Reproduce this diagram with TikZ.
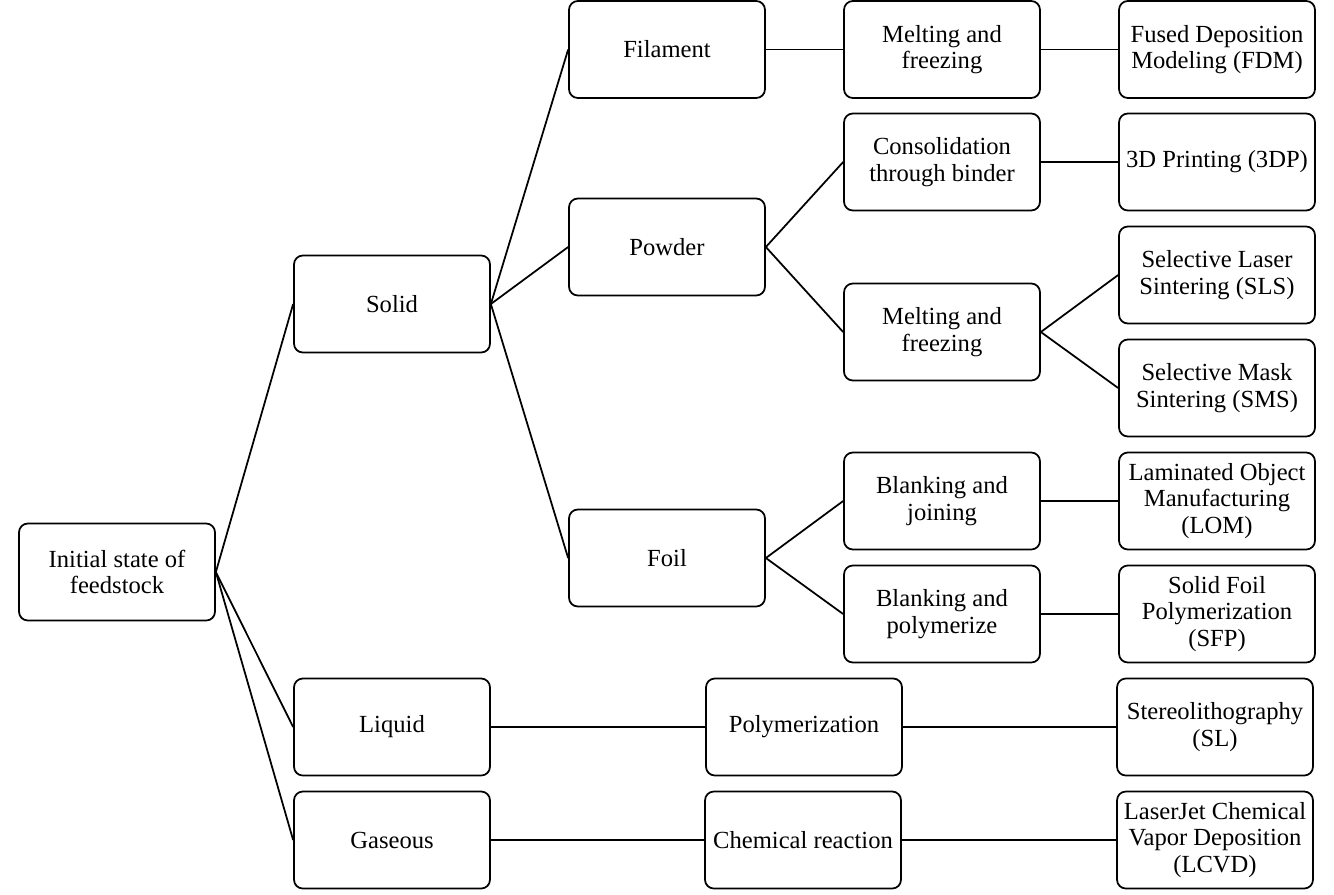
\documentclass[tikz,border=0pt]{standalone}
\usepackage{fontspec}
\setmainfont{Liberation Serif}

\begin{document}
\begin{tikzpicture}[x=0.02cm, y=-0.02cm,
    box/.style={draw, line width=1pt, rounded corners=5pt, minimum width=3.92cm,
                minimum height=1.94cm, align=center, inner sep=1pt,
                font=\fontsize{14}{15}\selectfont},
    link/.style={line width=1pt}]
    % Fix the frame
    \useasboundingbox (0,0) rectangle (1334,894);

    % Initial state
    \node[box] (init) at (117,572) {Initial state of\\feedstock};

    % States of the feedstock
    \node[box] (solid)   at (392,304) {Solid};
    \node[box] (liquid)  at (392,727) {Liquid};
    \node[box] (gaseous) at (392,840) {Gaseous};

    % Forms of the solid
    \node[box] (filament) at (667,49.5) {Filament};
    \node[box] (powder)   at (667,247)  {Powder};
    \node[box] (foil)     at (667,558)  {Foil};

    % Processes
    \node[box] (melt1)   at (942,49.5) {Melting and\\freezing};
    \node[box] (binder)  at (942,162)  {Consolidation\\through binder};
    \node[box] (melt2)   at (942,332)  {Melting and\\freezing};
    \node[box] (join)    at (942,501)  {Blanking and\\joining};
    \node[box] (polym)   at (942,614)  {Blanking and\\polymerize};
    \node[box] (polymer) at (804,727)  {Polymerization};
    \node[box] (chem)    at (803,840)  {Chemical reaction};

    % Techniques
    \node[box] (fdm)  at (1217,49.5) {Fused Deposition\\Modeling (FDM)};
    \node[box] (tdp)  at (1217,162)  {3D Printing (3DP)};
    \node[box] (sls)  at (1217,275)  {Selective Laser\\Sintering (SLS)};
    \node[box] (sms)  at (1217,388)  {Selective Mask\\Sintering (SMS)};
    \node[box] (lom)  at (1217,501)  {Laminated Object\\Manufacturing\\(LOM)};
    \node[box] (sfp)  at (1217,614)  {Solid Foil\\Polymerization\\(SFP)};
    \node[box] (sl)   at (1215,727)  {Stereolithography\\(SL)};
    \node[box] (lcvd) at (1215,840)  {LaserJet Chemical\\Vapor Deposition\\(LCVD)};

    % Connectors from the root
    \foreach \n in {solid, liquid, gaseous}
        \draw[link] (init.east) -- (\n.west);

    % Connectors from the solid
    \foreach \n in {filament, powder, foil}
        \draw[link] (solid.east) -- (\n.west);

    % Remaining connectors
    \draw[link] (filament.east) -- (melt1.west);
    \draw[link] (melt1.east) -- (fdm.west);
    \draw[link] (powder.east) -- (binder.west);
    \draw[link] (powder.east) -- (melt2.west);
    \draw[link] (binder.east) -- (tdp.west);
    \draw[link] (melt2.east) -- (sls.west);
    \draw[link] (melt2.east) -- (sms.west);
    \draw[link] (foil.east) -- (join.west);
    \draw[link] (foil.east) -- (polym.west);
    \draw[link] (join.east) -- (lom.west);
    \draw[link] (polym.east) -- (sfp.west);
    \draw[link] (liquid.east) -- (polymer.west);
    \draw[link] (polymer.east) -- (sl.west);
    \draw[link] (gaseous.east) -- (chem.west);
    \draw[link] (chem.east) -- (lcvd.west);
\end{tikzpicture}
\end{document}
